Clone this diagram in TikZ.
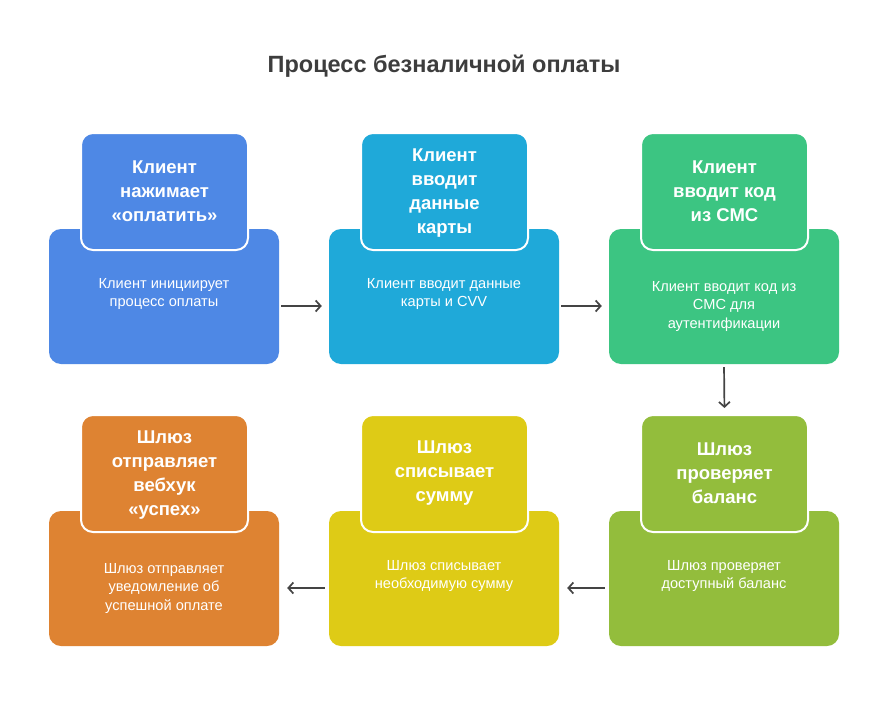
\documentclass[tikz,border=0pt]{standalone}
\usepackage{fontspec}
\setmainfont{Liberation Sans}
\usetikzlibrary{arrows.meta}
\definecolor{cblue}{HTML}{4E88E5}
\definecolor{ccyan}{HTML}{1FA9D9}
\definecolor{cgreen}{HTML}{3CC582}
\definecolor{clime}{HTML}{93BD3C}
\definecolor{cyell}{HTML}{DECB16}
\definecolor{corange}{HTML}{DE8332}
\definecolor{ctitle}{HTML}{3D3D3D}
\definecolor{carrow}{HTML}{444444}
\tikzset{
  bigbox/.style={rounded corners=12pt, minimum width=230pt, minimum height=135pt, inner sep=0pt},
  topbox/.style={rounded corners=12pt, minimum width=167pt, minimum height=117pt, inner sep=0pt, draw=white, line width=2pt},
  headtxt/.style={text=white, align=center, font=\bfseries\fontsize{18.5}{24}\selectfont},
  bodytxt/.style={text=white, align=center, font=\fontsize{14.6}{18.5}\selectfont},
  arr/.style={draw=carrow, line width=1.7pt, -{Straight Barb[length=5pt,width=11pt,line width=1.7pt]}},
}
\begin{document}
\begin{tikzpicture}[x=1pt,y=-1pt]
\useasboundingbox[fill=white] (0,0) rectangle (889,720);
\node[font=\bfseries\fontsize{23.5}{28}\selectfont, text=ctitle] (title) at (444,66) {Процесс безналичной оплаты};
% row 1
\node[bigbox, fill=cblue] (b1) at (164,296.5) {};
\node[bigbox, fill=ccyan] (b2) at (444,296.5) {};
\node[bigbox, fill=cgreen] (b3) at (724,296.5) {};
\node[topbox, fill=cblue] (t1) at (164.5,191.5) {};
\node[topbox, fill=ccyan] (t2) at (444.5,191.5) {};
\node[topbox, fill=cgreen] (t3) at (724.5,191.5) {};
\node[headtxt] (h1) at (t1) {Клиент\\нажимает\\«оплатить»};
\node[headtxt] (h2) at ([yshift=-1.5]t2.center) {Клиент\\вводит\\данные\\карты};
\node[headtxt] (h3) at (t3) {Клиент\\вводит код\\из СМС};
\node[bodytxt] (d1) at (164,294) {Клиент инициирует\\процесс оплаты};
\node[bodytxt] (d2) at (444,294) {Клиент вводит данные\\карты и CVV};
\node[bodytxt] (d3) at (724,306) {Клиент вводит код из\\СМС для\\аутентификации};
% row 2
\node[bigbox, fill=corange] (b4) at (164,578.5) {};
\node[bigbox, fill=cyell] (b5) at (444,578.5) {};
\node[bigbox, fill=clime] (b6) at (724,578.5) {};
\node[topbox, fill=corange] (t4) at (164.5,473.5) {};
\node[topbox, fill=cyell] (t5) at (444.5,473.5) {};
\node[topbox, fill=clime] (t6) at (724.5,473.5) {};
\node[headtxt] (h4) at ([yshift=-1.5]t4.center) {Шлюз\\отправляет\\вебхук\\«успех»};
\node[headtxt] (h5) at (t5) {Шлюз\\списывает\\сумму};
\node[headtxt] (h6) at (t6) {Шлюз\\проверяет\\баланс};
\node[bodytxt] (d4) at (164,588) {Шлюз отправляет\\уведомление об\\успешной оплате};
\node[bodytxt] (d5) at (444,576) {Шлюз списывает\\необходимую сумму};
\node[bodytxt] (d6) at (724,576) {Шлюз проверяет\\доступный баланс};
% connectors
\draw[arr, shorten <=2pt, shorten >=7pt] ([yshift=-9.5]b1.east) -- ([yshift=-9.5]b2.west);
\draw[arr, shorten <=2pt, shorten >=7pt] ([yshift=-9.5]b2.east) -- ([yshift=-9.5]b3.west);
\draw[arr, shorten <=3pt, shorten >=6pt] (b3.south) -- (t6.north);
\draw[arr, shorten <=4pt, shorten >=8pt] ([yshift=-9.5]b6.west) -- ([yshift=-9.5]b5.east);
\draw[arr, shorten <=4pt, shorten >=8pt] ([yshift=-9.5]b5.west) -- ([yshift=-9.5]b4.east);
\end{tikzpicture}
\end{document}
